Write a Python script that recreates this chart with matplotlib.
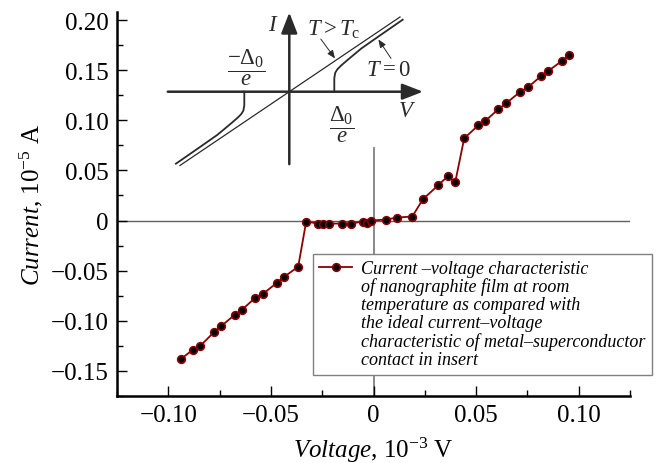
import matplotlib
matplotlib.use("Agg")
import matplotlib.pyplot as plt
from matplotlib.lines import Line2D
from matplotlib.ticker import MultipleLocator, FuncFormatter

plt.rcParams['font.family'] = ['Liberation Serif', 'DejaVu Serif']
plt.rcParams['mathtext.fontset'] = 'custom'
plt.rcParams['mathtext.rm'] = 'Liberation Serif'
plt.rcParams['mathtext.it'] = 'Liberation Serif:italic'

# measured I-V curve (voltage in 1e-3 V, current in 1e-5 A)
voltage = [-0.0938, -0.0881, -0.0844, -0.0776, -0.0741, -0.0676, -0.0641, -0.0576,
           -0.0538, -0.0470, -0.0434, -0.0367, -0.0328, -0.0272, -0.0247, -0.0215,
           -0.0153, -0.0112, -0.0049, -0.0033, -0.0010, 0.0063, 0.0114, 0.0189,
           0.0240, 0.0314, 0.0361, 0.0398, 0.0442, 0.0511, 0.0543, 0.0608,
           0.0647, 0.0712, 0.0753, 0.0816, 0.0850, 0.0917, 0.0951]
current = [-0.138, -0.129, -0.125, -0.111, -0.105, -0.094, -0.089, -0.077,
           -0.073, -0.062, -0.056, -0.046, -0.001, -0.003, -0.003, -0.003,
           -0.003, -0.003, -0.001, -0.002, 0.000, 0.001, 0.003, 0.004,
           0.021, 0.035, 0.044, 0.038, 0.082, 0.095, 0.099, 0.111,
           0.117, 0.128, 0.133, 0.144, 0.149, 0.159, 0.165]

legend_first = "Current \u2013voltage characteristic"
legend_rest = ("of nanographite film at room\n"
               "temperature as compared with\n"
               "the ideal current\u2013voltage\n"
               "characteristic of metal\u2013superconductor\n"
               "contact in insert")

# insert: schematic I-V of metal-superconductor contact (units of Delta0/e)
normal_v = [-2.43, 2.46]
normal_i = [-1.64, 1.66]
sc_v = [1.0, 1.0, 1.02, 1.07, 1.15, 1.3, 1.6, 2.0, 2.52]
sc_i = [0.0, 0.30, 0.42, 0.50, 0.58, 0.71, 0.96, 1.24, 1.60]

W, H = 662, 464
fig = plt.figure(figsize=(W / 100, H / 100), dpi=100)
ax = fig.add_axes([117 / W, 67 / H, 513 / W, 384 / H])

ax.set_xlim(-0.125, 0.125)
ax.set_ylim(-0.175, 0.208)
ax.axhline(0, color='#606060', lw=1.0, zorder=1)
ylo, yhi = ax.get_ylim()
ax.axvline(0, ymin=0, ymax=(0.072 - ylo) / (yhi - ylo), color='#808080', lw=1.3, zorder=1)

line, = ax.plot(voltage, current, '-o', color='#8b0000', lw=1.3, ms=5.5,
                mfc='black', mec='#8b0000', mew=1.2, zorder=3)

for s in ['top', 'right']:
    ax.spines[s].set_visible(False)
for s in ['left', 'bottom']:
    ax.spines[s].set_linewidth(1.8)

ax.xaxis.set_major_locator(MultipleLocator(0.05))
ax.xaxis.set_minor_locator(MultipleLocator(0.025))
ax.yaxis.set_major_locator(MultipleLocator(0.05))
ax.yaxis.set_minor_locator(MultipleLocator(0.025))
fmt = FuncFormatter(lambda v, p: '0' if abs(v) < 1e-9 else f'{v:.2f}'.replace('-', '\u2212'))
ax.xaxis.set_major_formatter(fmt)
ax.yaxis.set_major_formatter(fmt)
ax.tick_params(which='both', direction='in', width=1.0, labelsize=18, pad=6)
ax.tick_params(which='major', length=7)
ax.tick_params(which='minor', length=4)
ax.set_ylim(-0.175, 0.208)

ax.set_xlabel(r'$\mathit{Voltage}$, 10$^{-3}$ V', fontsize=18, labelpad=6)
ax.set_ylabel(r'$\mathit{Current}$, 10$^{-5}$ A', fontsize=18, labelpad=4)

blank = Line2D([], [], ls='none')
leg = ax.legend([line, blank], [legend_first, legend_rest],
                loc='upper left', bbox_to_anchor=(313 / W, 1 - 255 / H),
                bbox_transform=fig.transFigure, borderaxespad=0,
                prop={'family': 'Liberation Serif', 'style': 'italic', 'size': 13},
                fancybox=False, edgecolor='#808080', framealpha=1,
                handlelength=1.8, handletextpad=0.5, borderpad=0.35,
                labelspacing=0.0)
for t in leg.get_texts():
    t.set_linespacing(1.08)
leg.get_frame().set_linewidth(1.0)

# insert axes, 45 px per unit, origin at pixel (289.3, 92.7)
ax_in = fig.add_axes([160 / W, (H - 175) / H, 270 / W, 170 / H])
ax_in.set_xlim((160 - 289.3) / 45, (430 - 289.3) / 45)
ax_in.set_ylim((92.7 - 175) / 45, (92.7 - 5) / 45)
ax_in.axis('off')
ink = '#2a2a2a'
arrow_kw = dict(arrowstyle='-|>,head_length=0.9,head_width=0.35', color=ink, lw=1.8,
                mutation_scale=14, shrinkA=0, shrinkB=0)
ax_in.annotate('', xy=(2.97, 0), xytext=(-2.70, 0), arrowprops=arrow_kw)
ax_in.annotate('', xy=(0, 1.76), xytext=(0, -1.61), arrowprops=arrow_kw)
ax_in.plot(normal_v, normal_i, color=ink, lw=0.9)
ax_in.plot(sc_v, sc_i, color=ink, lw=1.3)
ax_in.plot([-v for v in sc_v], [-i for i in sc_i], color=ink, lw=1.3)

tk = dict(color=ink, fontsize=16.5, ha='center', va='center')
ax_in.text(-0.36, 1.50, r'$I$', **tk)
ax_in.text(2.62, -0.42, r'$V$', **tk)
ax_in.text(0.98, 1.39, r'$T > T_\mathrm{c}$', **tk)
ax_in.text(2.2, 0.5, r'$T = 0$', **tk)
ax_in.text(-0.96, 0.56, r'$\dfrac{-\Delta_0}{e}$', **tk)
ax_in.text(1.16, -0.72, r'$\dfrac{\Delta_0}{e}$', **tk)
small_kw = dict(arrowstyle='-|>,head_length=0.6,head_width=0.25', color=ink, lw=0.7,
                mutation_scale=8, shrinkA=0, shrinkB=0)
ax_in.annotate('', xy=(1.016, 0.74), xytext=(0.70, 1.17), arrowprops=small_kw)
ax_in.annotate('', xy=(1.98, 1.16), xytext=(2.26, 0.74), arrowprops=small_kw)

fig.savefig('out.png', dpi=100)
